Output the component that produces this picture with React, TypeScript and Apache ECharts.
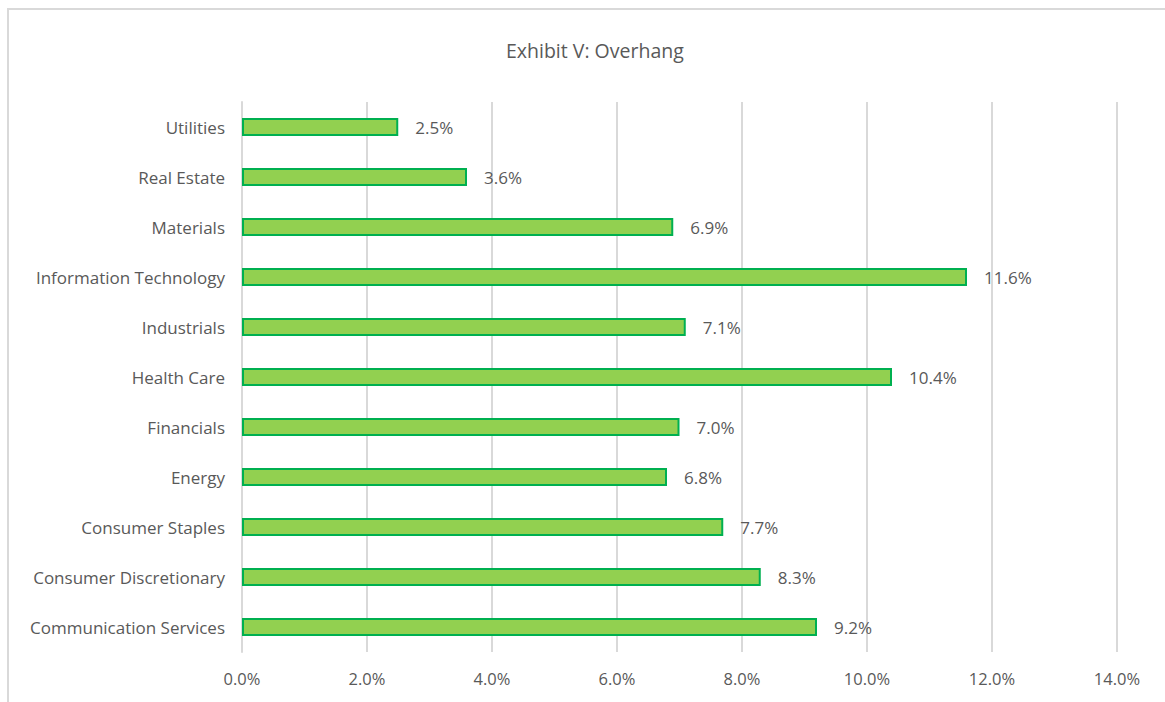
import React, { useEffect, useRef } from "react";
import * as echarts from "echarts";

const categories = [
  "Communication Services",
  "Consumer Discretionary",
  "Consumer Staples",
  "Energy",
  "Financials",
  "Health Care",
  "Industrials",
  "Information Technology",
  "Materials",
  "Real Estate",
  "Utilities",
];
const values = [9.2, 8.3, 7.7, 6.8, 7.0, 10.4, 7.1, 11.6, 6.9, 3.6, 2.5];
const titleText = "Exhibit V: Overhang";

export default function App() {
  const ref = useRef<HTMLDivElement>(null);
  useEffect(() => {
    if (!ref.current) return;
    const chart = echarts.init(ref.current, undefined, { renderer: "svg" });
    const font = "Open Sans";
    chart.setOption({
      animation: false,
      backgroundColor: "#ffffff",
      title: {
        text: titleText,
        left: 501,
        top: 35,
        textStyle: { fontFamily: font, fontSize: 19.5, fontWeight: "normal", color: "#595959" },
      },
      graphic: [
        {
          type: "polyline",
          shape: { points: [[8, 702], [8, 9], [1165, 9]] },
          style: { stroke: "#d9d9d9", lineWidth: 2, fill: "none" },
        },
      ],
      grid: { left: 242, right: 48, top: 102, bottom: 50, containLabel: false },
      xAxis: {
        type: "value",
        min: 0,
        max: 14,
        interval: 2,
        axisLine: { show: false },
        axisTick: { show: false },
        splitLine: { show: true, lineStyle: { color: "#d9d9d9", width: 2 } },
        axisLabel: {
          margin: 18,
          fontFamily: font,
          fontSize: 16.5,
          color: "#595959",
          formatter: (v: number) => v.toFixed(1) + "%",
        },
      },
      yAxis: {
        type: "category",
        data: categories,
        axisLine: { show: true, lineStyle: { color: "#d9d9d9", width: 2 } },
        axisTick: { show: false },
        axisLabel: { margin: 17, fontFamily: font, fontSize: 17, color: "#595959" },
      },
      series: [
        {
          type: "bar",
          data: values,
          barWidth: 18,
          itemStyle: { color: "#92d050", borderColor: "#00b050", borderWidth: 2 },
          label: {
            show: true,
            position: "right",
            distance: 17,
            fontFamily: font,
            fontSize: 17,
            color: "#595959",
            formatter: (p: any) => p.value.toFixed(1) + "%",
          },
        },
      ],
    });
    return () => chart.dispose();
  }, []);
  return (
    <div
      ref={ref}
      style={{ position: "fixed", left: 0, top: 0, width: 1165, height: 702 }}
    />
  );
}
